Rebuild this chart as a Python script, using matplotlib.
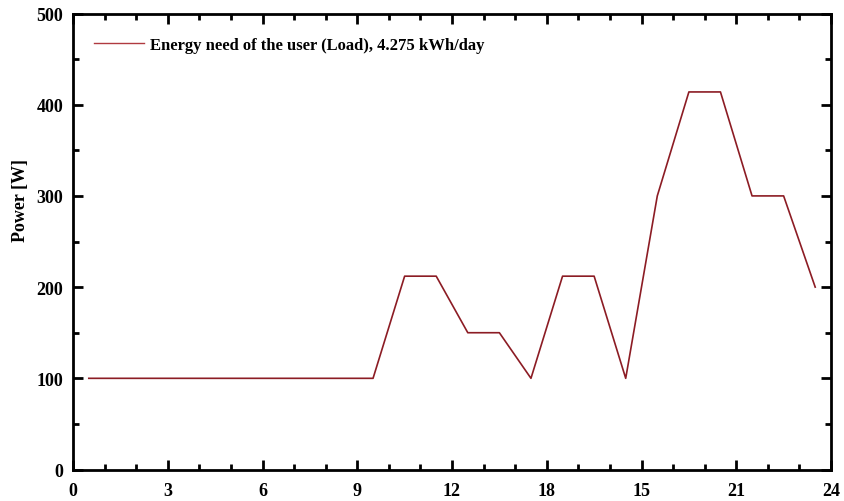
import matplotlib
matplotlib.use("Agg")
import matplotlib.pyplot as plt
from matplotlib.ticker import MultipleLocator, FixedLocator

# Hourly load profile (values plotted at mid-hour)
hours = [0.5, 1.5, 2.5, 3.5, 4.5, 5.5, 6.5, 7.5, 8.5, 9.5, 10.5, 11.5,
         12.5, 13.5, 14.5, 15.5, 16.5, 17.5, 18.5, 19.5, 20.5, 21.5, 22.5, 23.5]
load_w = [100, 100, 100, 100, 100, 100, 100, 100, 100, 100, 212, 212,
          150, 150, 100, 212, 212, 100, 300, 414, 414, 300, 300, 200]

xtick_pos = [0, 3, 6, 9, 12, 15, 18, 21, 24]
xtick_labels = ["0", "3", "6", "9", "12", "18", "15", "21", "24"]
yticks = [0, 100, 200, 300, 400, 500]

legend_label = "Energy need of the user (Load), 4.275 kWh/day"

plt.rcParams["font.family"] = ["Liberation Serif", "DejaVu Serif"]
plt.rcParams["font.weight"] = "bold"

fig = plt.figure(figsize=(8.44, 5.02), dpi=100)
ax = fig.add_axes([0.0865, 0.0627, 0.8981, 0.9084])

ax.plot(hours, load_w, color="#8c1c24", lw=1.2, label=legend_label)

ax.set_xlim(0, 24)
ax.set_ylim(0, 500)

ax.xaxis.set_major_locator(FixedLocator(xtick_pos))
ax.set_xticklabels(xtick_labels)
ax.xaxis.set_minor_locator(MultipleLocator(1))
ax.yaxis.set_major_locator(FixedLocator(yticks))
ax.yaxis.set_minor_locator(MultipleLocator(50))

ax.tick_params(which="both", direction="in", top=True, right=True,
               width=2, labelsize=13)
ax.tick_params(which="major", length=7)
ax.tick_params(which="minor", length=4)
ax.tick_params(axis="x", which="major", pad=9)
ax.tick_params(axis="y", which="major", pad=7)
for lab in ax.get_xticklabels() + ax.get_yticklabels():
    lab.set_fontweight("bold")

for sp in ax.spines.values():
    sp.set_linewidth(2)

ax.set_ylabel("Power [W]", fontsize=13, fontweight="bold")
ax.yaxis.set_label_coords(-0.058, 0.593)

leg = ax.legend(loc="upper left", frameon=False, fontsize=12,
                handlelength=3.0, handletextpad=0.4,
                bbox_to_anchor=(0.012, 0.975), borderaxespad=0.3)
for t in leg.get_texts():
    t.set_fontweight("bold")
for h in leg.get_lines():
    h.set_color("#b03a40")
    h.set_linewidth(1.0)

fig.savefig("out.png", dpi=100)
